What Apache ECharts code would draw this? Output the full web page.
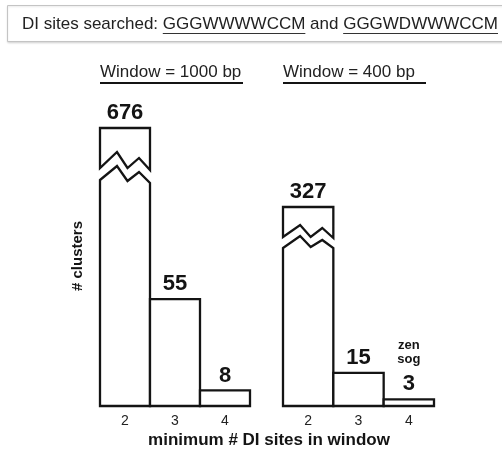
<!DOCTYPE html>
<html><head><meta charset="utf-8">
<script src="https://cdn.jsdelivr.net/npm/echarts@6/dist/echarts.min.js"></script>
<style>html,body{margin:0;padding:0;background:#fff}#c{width:502px;height:450px}</style>
</head><body><div id="c"></div>
<script>
// ---- data ----
const categories = ['2', '3', '4'];
const values1000 = [676, 55, 8];
const values400 = [327, 15, 3];
const notes1000 = ['', '', ''];
const notes400 = ['', '', 'zen\nsog'];
const panelTitles = ['Window = 1000 bp', 'Window = 400 bp'];
const headerParts = ['DI sites searched: ', 'GGGWWWWCCM', ' and ', 'GGGWDWWWCCM'];
const headerUnderlined = [false, true, false, true];
const xName = 'minimum # DI sites in window';
const yName = '# clusters';

// ---- style ----
const FONT = '"Liberation Sans", Arial, Helvetica, sans-serif';
const INK = '#141414';
const axisMax = [143, 90];
const breakStyles = [
  { up: [40, 24, 40, 30, 42], lo: [52, 38, 53, 44, 55] },
  { up: [30, 18, 30, 21, 31], lo: [41, 29, 40, 33, 41] }
];
const breakXs = [0, 0.34, 0.55, 0.78, 1];

function measure(text, font) {
  const c = document.createElement('canvas').getContext('2d');
  c.font = font;
  return c.measureText(text).width;
}

function makeRender(panel, notes) {
  return function (params, api) {
    const idx = api.value(0);
    const val = api.value(1);
    const max = axisMax[panel];
    const top = api.coord([idx, Math.min(val, max)]);
    const base = api.coord([idx, 0]);
    const w = api.size([1, 0])[0];
    const cx = top[0];
    const L = cx - w / 2, R = cx + w / 2;
    const ty = top[1], by = base[1];
    const style = { fill: '#fff', stroke: INK, lineWidth: 2.3, lineJoin: 'miter' };
    const children = [];
    if (val > max) {
      const b = breakStyles[panel];
      const upPts = [[L, ty], [R, ty]];
      for (let k = 4; k >= 0; k--) upPts.push([L + breakXs[k] * w, ty + b.up[k]]);
      const loPts = [];
      for (let k = 0; k < 5; k++) loPts.push([L + breakXs[k] * w, ty + b.lo[k]]);
      loPts.push([R, by], [L, by]);
      children.push({ type: 'polygon', shape: { points: upPts }, style: style });
      children.push({ type: 'polygon', shape: { points: loPts }, style: style });
    } else {
      children.push({ type: 'rect', shape: { x: L, y: ty, width: w, height: by - ty }, style: style });
    }
    const labelY = ty - 15;
    children.push({
      type: 'text', x: cx, y: labelY,
      style: { text: String(val), fill: INK, font: 'bold 22px ' + FONT, align: 'center', verticalAlign: 'middle' }
    });
    const note = notes[idx];
    if (note) {
      children.push({
        type: 'text', x: cx, y: labelY - 18,
        style: { text: note, fill: INK, font: 'bold 13px ' + FONT, lineHeight: 14, align: 'center', verticalAlign: 'bottom' }
      });
    }
    return { type: 'group', children: children };
  };
}

const chart = echarts.init(document.getElementById('c'), null, { renderer: 'canvas' });

// header pieces
const headerFont = '17px ' + FONT;
const graphics = [];
graphics.push({
  type: 'rect', shape: { x: 7.5, y: 5.5, width: 530, height: 36 },
  style: { fill: '#fff', stroke: '#c4c4c4', lineWidth: 1, shadowColor: 'rgba(0,0,0,0.12)', shadowBlur: 2, shadowOffsetY: 1 }
});
let hx = 22;
headerParts.forEach((p, i) => {
  const wdt = measure(p, headerFont);
  graphics.push({ type: 'text', x: hx, y: 24, style: { text: p, font: headerFont, fill: '#222', align: 'left', verticalAlign: 'middle' } });
  if (headerUnderlined[i]) {
    graphics.push({ type: 'line', shape: { x1: hx, y1: 33.5, x2: hx + wdt, y2: 33.5 }, style: { stroke: '#333', lineWidth: 1 } });
  }
  hx += wdt;
});
// panel titles
const titleX = [100, 283];
panelTitles.forEach((t, i) => {
  graphics.push({ type: 'text', x: titleX[i], y: 72, style: { text: t, font: '17px ' + FONT, fill: '#222', align: 'left', verticalAlign: 'middle' } });
  graphics.push({ type: 'line', shape: { x1: titleX[i], y1: 83, x2: titleX[i] + 143, y2: 83 }, style: { stroke: INK, lineWidth: 2 } });
});
graphics.push({ type: 'text', x: 78, y: 256, rotation: Math.PI / 2, style: { text: yName, font: 'bold 15px ' + FONT, fill: INK, align: 'center', verticalAlign: 'middle' } });
graphics.push({ type: 'text', x: 269, y: 440, style: { text: xName, font: 'bold 17px ' + FONT, fill: INK, align: 'center', verticalAlign: 'middle' } });

function xAxisFor(g) {
  return {
    gridIndex: g, type: 'category', data: categories, boundaryGap: true,
    axisLine: { show: false }, axisTick: { show: false }, splitLine: { show: false },
    axisLabel: { fontSize: 14, color: '#222', fontFamily: FONT, margin: 8 }
  };
}
function yAxisFor(g) {
  return { gridIndex: g, type: 'value', min: 0, max: axisMax[g], show: false, splitLine: { show: false } };
}

chart.setOption({
  animation: false,
  backgroundColor: '#fff',
  grid: [
    { left: 100, top: 128, width: 150, height: 278 },
    { left: 283, top: 207, width: 151, height: 199 }
  ],
  xAxis: [xAxisFor(0), xAxisFor(1)],
  yAxis: [yAxisFor(0), yAxisFor(1)],
  series: [
    { type: 'custom', xAxisIndex: 0, yAxisIndex: 0, clip: false, renderItem: makeRender(0, notes1000), data: values1000.map((v, i) => [i, v]), encode: { x: 0, y: 1 } },
    { type: 'custom', xAxisIndex: 1, yAxisIndex: 1, clip: false, renderItem: makeRender(1, notes400), data: values400.map((v, i) => [i, v]), encode: { x: 0, y: 1 } }
  ],
  graphic: graphics
});
</script>
</body></html>
